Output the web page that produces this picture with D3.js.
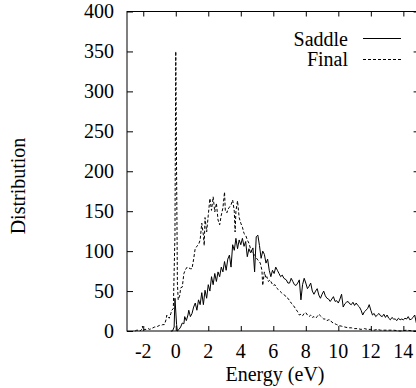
<!DOCTYPE html>
<html><head><meta charset="utf-8">
<script src="https://cdn.jsdelivr.net/npm/d3@7"></script>
</head>
<body style="margin:0">
<svg id="c" width="416" height="388"></svg>
<script>
const saddleE = [-0.3,-0.2,-0.1,-0.05,0.05,0.1,0.2,0.3,0.4,0.5,0.55,0.65,0.75,0.8,0.9,1.0,1.1,1.2,1.3,1.4,1.5,1.6,1.7,1.8,1.9,2.0,2.1,2.2,2.3,2.4,2.5,2.6,2.7,2.8,2.9,3.0,3.1,3.2,3.3,3.4,3.5,3.6,3.7,3.8,3.9,4.0,4.1,4.2,4.3,4.4,4.5,4.6,4.75,4.85,4.95,5.05,5.15,5.25,5.35,5.45,5.55,5.65,5.75,5.85,5.95,6.05,6.15,6.25,6.35,6.45,6.55,6.65,6.8,6.9,7.0,7.1,7.2,7.3,7.4,7.5,7.6,7.7,7.8,7.9,8.0,8.1,8.2,8.3,8.4,8.5,8.6,8.7,8.8,8.9,9.0,9.1,9.2,9.3,9.4,9.5,9.6,9.7,9.8,9.9,10.0,10.1,10.2,10.3,10.4,10.5,10.6,10.7,10.8,10.9,11.0,11.1,11.2,11.3,11.4,11.5,11.6,11.7,11.8,11.9,12.0,12.1,12.2,12.3,12.4,12.5,12.6,12.7,12.8,12.9,13.0,13.1,13.2,13.3,13.4,13.5,13.6,13.7,13.8,13.9,14.0,14.1,14.2,14.3,14.4,14.5,14.6,14.7,14.8,14.9,15.0];
const saddleV = [0,0,5,41,8,0,2,5,10,9,18,13,20,26,18,22,30,35,26,39,33,48,33,51,41,58,50,68,58,72,62,74,68,80,74,87,76,90,95,80,108,101,116,103,114,108,116,106,112,93,103,98,104,74,118,120,107,91,100,96,85,90,76,68,76,72,80,76,72,68,70,66,64,60,60,66,62,58,57,60,64,39,58,66,60,53,56,60,50,46,50,53,45,41,46,50,44,41,40,37,40,43,37,38,35,40,46,30,34,36,37,34,33,36,32,35,32,30,26,20,24,26,28,33,26,20,22,18,20,22,19,18,21,17,20,16,14,17,15,15,13,16,14,15,14,16,15,18,14,15,17,20,10,13,13];
const finalE = [-2.5,-2.4,-2.3,-2.2,-2.1,-2.05,-2.0,-1.9,-1.8,-1.7,-1.6,-1.5,-1.4,-1.3,-1.2,-1.1,-1.0,-0.9,-0.8,-0.7,-0.6,-0.55,-0.45,-0.4,-0.3,-0.25,-0.15,-0.05,0.0,0.05,0.1,0.15,0.25,0.3,0.4,0.5,0.6,0.7,0.8,0.9,1.0,1.1,1.2,1.3,1.4,1.5,1.6,1.7,1.75,1.8,1.9,2.0,2.1,2.2,2.3,2.4,2.5,2.6,2.7,2.8,2.9,3.0,3.05,3.15,3.2,3.3,3.4,3.5,3.6,3.65,3.7,3.8,3.9,4.0,4.1,4.2,4.3,4.4,4.5,4.6,4.7,4.8,4.9,5.0,5.1,5.2,5.3,5.35,5.45,5.55,5.6,5.7,5.8,5.9,6.0,6.1,6.2,6.3,6.4,6.5,6.6,6.7,6.8,6.9,7.0,7.1,7.2,7.3,7.4,7.5,7.6,7.7,7.8,7.9,8.0,8.1,8.2,8.3,8.4,8.5,8.6,8.7,8.8,8.9,9.0,9.1,9.2,9.3,9.4,9.5,9.6,9.7,9.8,9.9,10.0,10.2,10.4,10.6,10.8,11.0,11.2,11.4,11.6,11.8,12.0,12.2,12.4,12.6,12.8,13.0,13.4,13.8,14.2,14.6,15.0];
const finalV = [0,1,1,0,2,6,1,2,2,3,2,3,4,5,5,6,7,7,8,8,14,20,17,16,22,26,28,120,350,200,60,39,45,54,55,72,77,80,79,78,78,90,104,106,108,114,135,120,107,142,124,145,166,151,168,149,160,139,133,145,154,174,150,148,152,155,158,164,150,124,150,163,142,135,130,122,120,114,110,103,98,96,94,90,88,85,76,57,74,66,68,62,64,60,57,58,54,52,50,48,46,45,42,41,38,35,33,30,27,24,20,21,19,22,23,20,18,20,17,18,16,18,21,19,17,15,15,13,14,14,11,10,9,8,7,6,5,4,4,3,3,2,3,2,2,1,2,1,1,1,1,0,1,0,0];
const xTicks = [-2,0,2,4,6,8,10,12,14];
const yTicks = [0,50,100,150,200,250,300,350,400];
const seriesNames = ["Saddle","Final"];

const svg = d3.select("#c");
const L = 127, R = 419.6, T = 11.5, B = 331;
const x = d3.scaleLinear().domain([-3,15]).range([L,R]);
const y = d3.scaleLinear().domain([0,400]).range([B,T]);
const addText = (tx, ty, anchor, s, rot) => {
  const t = svg.append("text").style("font-family", '"Liberation Serif"').style("font-size", "20px")
    .attr("text-anchor", anchor).text(s);
  if (rot) t.attr("transform", `translate(${tx},${ty}) rotate(-90)`);
  else t.attr("x", tx).attr("y", ty);
  return t;
};

// tick marks from d3 axes (their own labels removed; labels drawn below from the same scales)
const axes = [
  [d3.axisBottom(x).tickValues(xTicks).tickSize(-5), `translate(0,${B})`],
  [d3.axisTop(x).tickValues(xTicks).tickSize(-5), `translate(0,${T})`],
  [d3.axisLeft(y).tickValues(yTicks).tickSize(-6), `translate(${L},0)`],
  [d3.axisRight(y).tickValues(yTicks).tickSize(-6), `translate(${R},0)`]
];
axes.forEach(([ax, tr]) => {
  const g = svg.append("g").attr("transform", tr).call(ax.tickFormat(""));
  g.attr("font-family", null).attr("font-size", null).attr("text-anchor", null).attr("fill", null);
  g.select(".domain").remove();
  g.selectAll("text").remove();
  g.selectAll("line").attr("stroke","#000").attr("stroke-width",1);
});
xTicks.forEach(v => addText(x(v), B + 27, "middle", String(v)));
yTicks.forEach(v => addText(L - 13, y(v) + 6.5, "end", String(v)));

svg.append("rect").attr("x",L).attr("y",T).attr("width",R-L).attr("height",B-T)
  .attr("fill","none").attr("stroke","#000").attr("stroke-width",1);

const line = d3.line().x(d=>x(d[0])).y(d=>y(d[1]));
svg.append("path").datum(d3.zip(saddleE, saddleV)).attr("d",line).attr("fill","none").attr("stroke","#000").attr("stroke-width",1);
svg.append("path").datum(d3.zip(finalE, finalV)).attr("d",line).attr("fill","none").attr("stroke","#000").attr("stroke-width",1).attr("stroke-dasharray","3,2");

const leg = [{name:seriesNames[0],dash:null,ty:46,ly:38.5},{name:seriesNames[1],dash:"3,2",ty:66,ly:59.5}];
leg.forEach(l=>{
  addText(348, l.ty, "end", l.name);
  svg.append("line").attr("x1",363).attr("x2",401).attr("y1",l.ly).attr("y2",l.ly)
    .attr("stroke","#000").attr("stroke-width",1).attr("stroke-dasharray",l.dash);
});

addText(275, 381, "middle", "Energy (eV)");
addText(25, 186, "middle", "Distribution", true);
</script></body></html>
